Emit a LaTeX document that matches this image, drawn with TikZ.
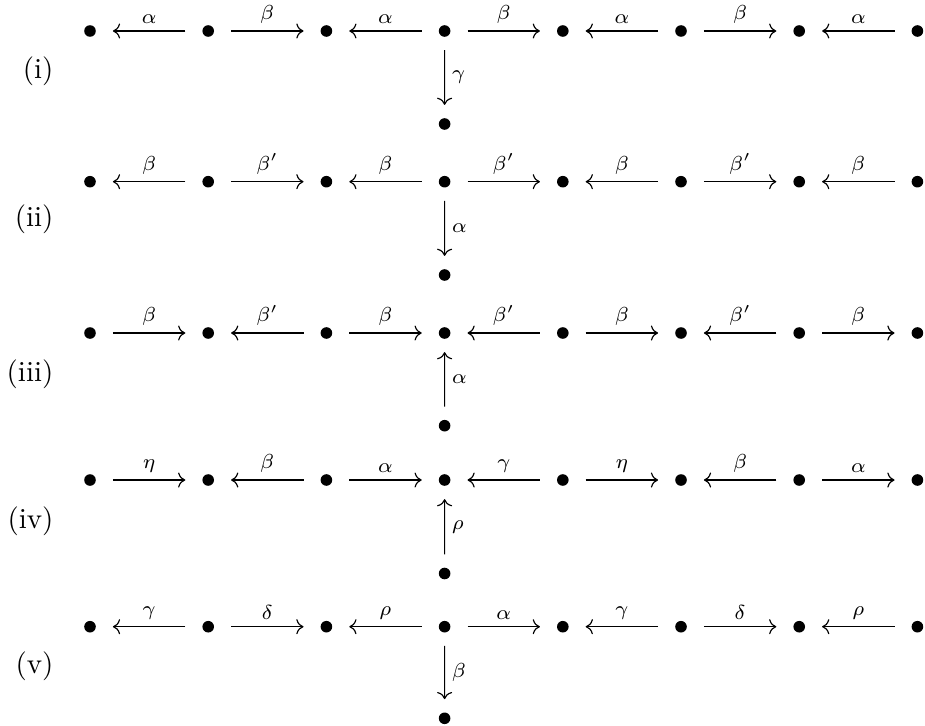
\documentclass[tikz,border=0pt]{standalone}
\usetikzlibrary{arrows.meta}
\begin{document}
\begin{tikzpicture}[x=0.345pt,y=-0.345pt,
  dot/.style={circle, fill=black, inner sep=0pt, minimum size=4pt},
  harr/.style={-{Computer Modern Rightarrow}, line width=0.4pt, shorten <=5.7pt, shorten >=5.7pt},
  varr/.style={-{Computer Modern Rightarrow}, line width=0.4pt, shorten <=4.4pt, shorten >=4.4pt},
  hl/.style={midway, above, inner sep=2.3pt},
  vl/.style={midway, right, inner sep=2.3pt},
  rlab/.style={anchor=east, inner sep=0pt}]
\useasboundingbox (0,0) rectangle (925,725);
\foreach \r/\t/\b in {1/31/124, 2/181.7/275, 3/333/425.7, 4/480/573.5, 5/626.7/718.3} {
  \foreach \c in {1,...,8} {
    \node[dot] (r\r c\c) at ({90+118.2*(\c-1)},\t) {};
  }
  \node[dot] (r\r b) at (444.6,\b) {};
}
% row labels
\node[rlab] (L1) at (54,71) {(i)};
\node[rlab] (L2) at (54,219) {(ii)};
\node[rlab] (L3) at (54,374) {(iii)};
\node[rlab] (L4) at (54,521) {(iv)};
\node[rlab] (L5) at (54,666) {(v)};
% row (i)
\draw[harr] (r1c2) -- node[hl] {$\scriptstyle\alpha$} (r1c1);
\draw[harr] (r1c2) -- node[hl] {$\scriptstyle\beta$} (r1c3);
\draw[harr] (r1c4) -- node[hl] {$\scriptstyle\alpha$} (r1c3);
\draw[harr] (r1c4) -- node[hl] {$\scriptstyle\beta$} (r1c5);
\draw[harr] (r1c6) -- node[hl] {$\scriptstyle\alpha$} (r1c5);
\draw[harr] (r1c6) -- node[hl] {$\scriptstyle\beta$} (r1c7);
\draw[harr] (r1c8) -- node[hl] {$\scriptstyle\alpha$} (r1c7);
\draw[varr] (r1c4) -- node[vl] {$\scriptstyle\gamma$} (r1b);
% row (ii)
\draw[harr] (r2c2) -- node[hl] {$\scriptstyle\beta$} (r2c1);
\draw[harr] (r2c2) -- node[hl] {$\scriptstyle\beta'$} (r2c3);
\draw[harr] (r2c4) -- node[hl] {$\scriptstyle\beta$} (r2c3);
\draw[harr] (r2c4) -- node[hl] {$\scriptstyle\beta'$} (r2c5);
\draw[harr] (r2c6) -- node[hl] {$\scriptstyle\beta$} (r2c5);
\draw[harr] (r2c6) -- node[hl] {$\scriptstyle\beta'$} (r2c7);
\draw[harr] (r2c8) -- node[hl] {$\scriptstyle\beta$} (r2c7);
\draw[varr] (r2c4) -- node[vl] {$\scriptstyle\alpha$} (r2b);
% row (iii)
\draw[harr] (r3c1) -- node[hl] {$\scriptstyle\beta$} (r3c2);
\draw[harr] (r3c3) -- node[hl] {$\scriptstyle\beta'$} (r3c2);
\draw[harr] (r3c3) -- node[hl] {$\scriptstyle\beta$} (r3c4);
\draw[harr] (r3c5) -- node[hl] {$\scriptstyle\beta'$} (r3c4);
\draw[harr] (r3c5) -- node[hl] {$\scriptstyle\beta$} (r3c6);
\draw[harr] (r3c7) -- node[hl] {$\scriptstyle\beta'$} (r3c6);
\draw[harr] (r3c7) -- node[hl] {$\scriptstyle\beta$} (r3c8);
\draw[varr] (r3b) -- node[vl] {$\scriptstyle\alpha$} (r3c4);
% row (iv)
\draw[harr] (r4c1) -- node[hl] {$\scriptstyle\eta$} (r4c2);
\draw[harr] (r4c3) -- node[hl] {$\scriptstyle\beta$} (r4c2);
\draw[harr] (r4c3) -- node[hl] {$\scriptstyle\alpha$} (r4c4);
\draw[harr] (r4c5) -- node[hl] {$\scriptstyle\gamma$} (r4c4);
\draw[harr] (r4c5) -- node[hl] {$\scriptstyle\eta$} (r4c6);
\draw[harr] (r4c7) -- node[hl] {$\scriptstyle\beta$} (r4c6);
\draw[harr] (r4c7) -- node[hl] {$\scriptstyle\alpha$} (r4c8);
\draw[varr] (r4b) -- node[vl] {$\scriptstyle\rho$} (r4c4);
% row (v)
\draw[harr] (r5c2) -- node[hl] {$\scriptstyle\gamma$} (r5c1);
\draw[harr] (r5c2) -- node[hl] {$\scriptstyle\delta$} (r5c3);
\draw[harr] (r5c4) -- node[hl] {$\scriptstyle\rho$} (r5c3);
\draw[harr] (r5c4) -- node[hl] {$\scriptstyle\alpha$} (r5c5);
\draw[harr] (r5c6) -- node[hl] {$\scriptstyle\gamma$} (r5c5);
\draw[harr] (r5c6) -- node[hl] {$\scriptstyle\delta$} (r5c7);
\draw[harr] (r5c8) -- node[hl] {$\scriptstyle\rho$} (r5c7);
\draw[varr] (r5c4) -- node[vl] {$\scriptstyle\beta$} (r5b);
\end{tikzpicture}
\end{document}
